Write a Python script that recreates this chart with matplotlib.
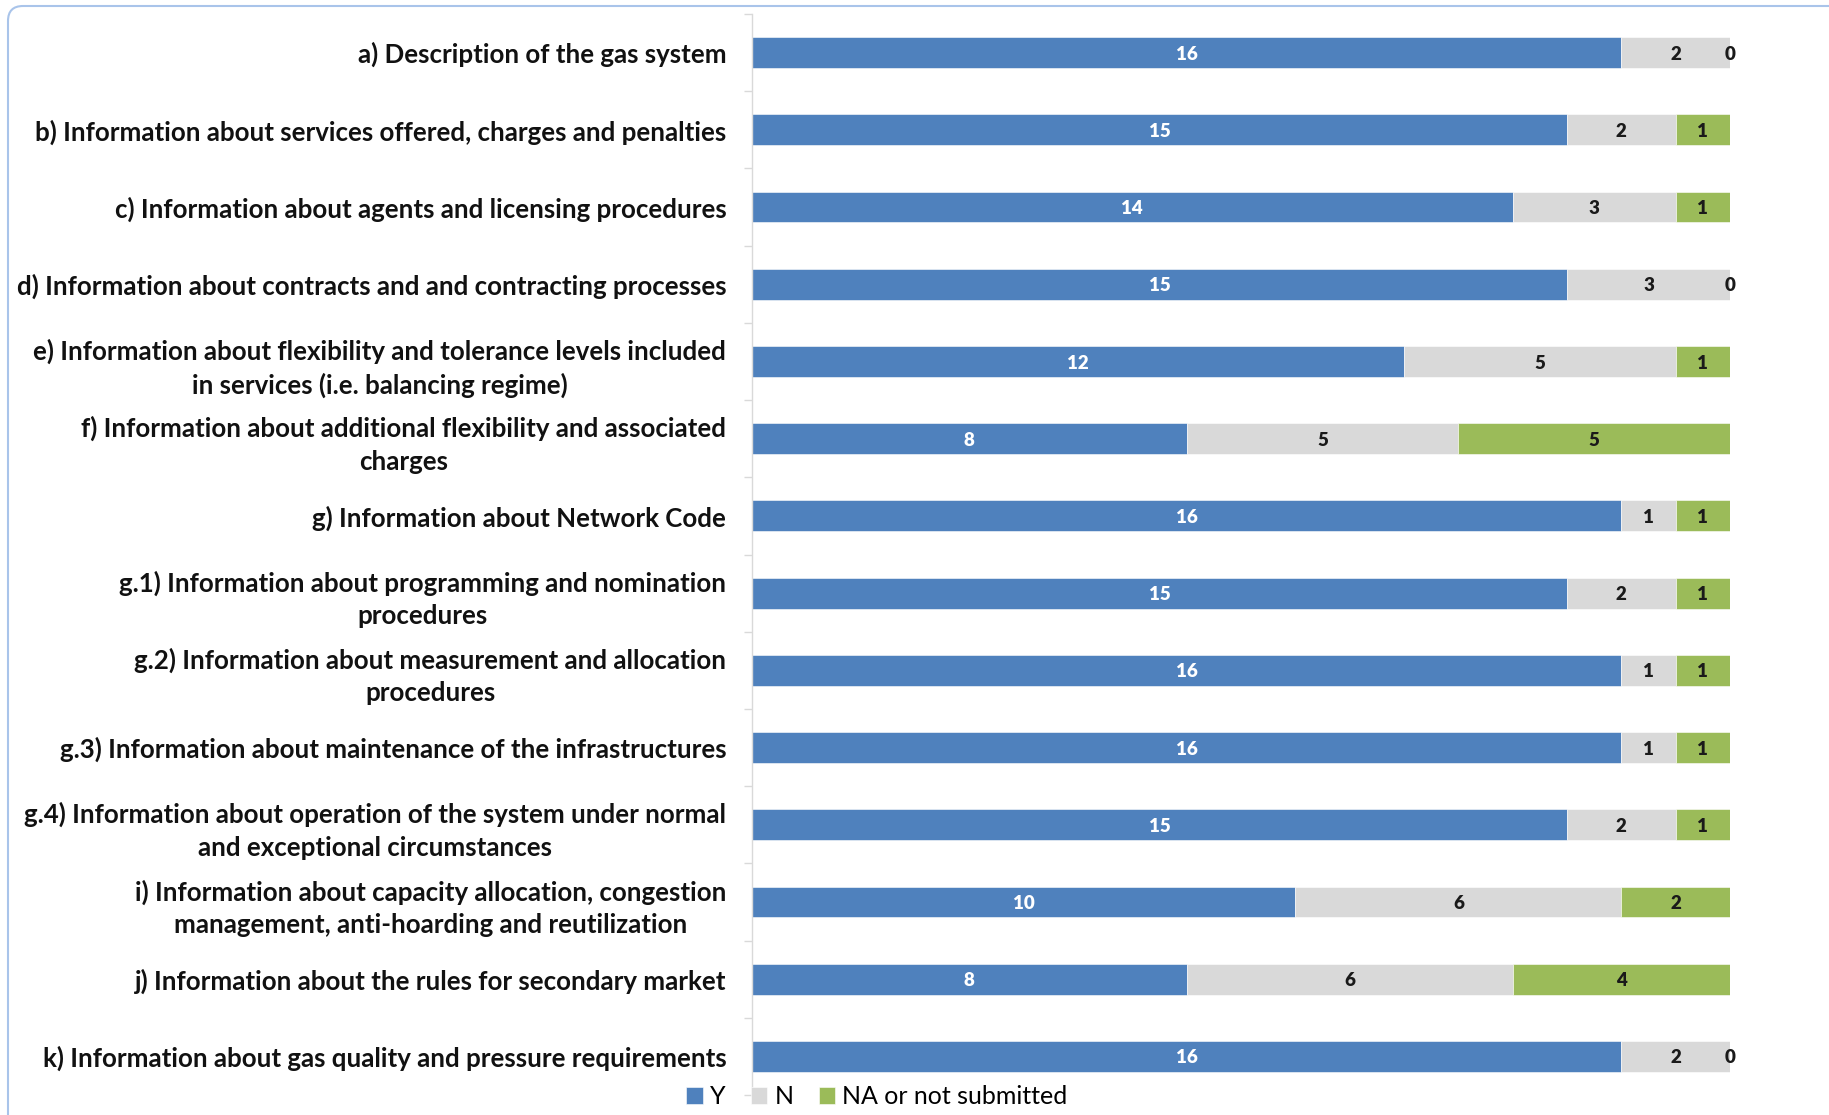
import matplotlib.pyplot as plt
import numpy as np
from matplotlib.patches import FancyBboxPatch

categories = [
    "a) Description of the gas system",
    "b) Information about services offered, charges and penalties",
    "c) Information about agents and licensing procedures",
    "d) Information about contracts and and contracting processes",
    "e) Information about flexibility and tolerance levels included\nin services (i.e. balancing regime)",
    "f) Information about additional flexibility and associated\ncharges",
    "g) Information about Network Code",
    "g.1) Information about programming and nomination\nprocedures",
    "g.2) Information about measurement and allocation\nprocedures",
    "g.3) Information about maintenance of the infrastructures",
    "g.4) Information about operation of the system under normal\nand exceptional circumstances",
    "i) Information about capacity allocation, congestion\nmanagement, anti-hoarding and reutilization",
    "j) Information about the rules for secondary market",
    "k) Information about gas quality and pressure requirements",
]
yes_vals = [16, 15, 14, 15, 12, 8, 16, 15, 16, 16, 15, 10, 8, 16]
no_vals = [2, 2, 3, 3, 5, 5, 1, 2, 1, 1, 2, 6, 6, 2]
na_vals = [0, 1, 1, 0, 1, 5, 1, 1, 1, 1, 1, 2, 4, 0]
series_names = ["Y", "N", "NA or not submitted"]

colors = ["#4F81BD", "#D9D9D9", "#9BBB59"]
label_colors = ["white", "#1a1a1a", "#1a1a1a"]

plt.rcParams['font.family'] = ['Lato', 'DejaVu Sans']

fig = plt.figure(figsize=(18.29, 11.15), dpi=100)
W, H = 1829, 1115
ax = fig.add_axes([752 / W, 1 - 1095 / H, 978 / W, (1095 - 14) / H])

# rounded frame round the chart
frame = FancyBboxPatch((0.08, -1.0), 25, 11.15 - 0.06 + 1.0,
                       boxstyle="round,pad=0,rounding_size=0.15",
                       transform=fig.dpi_scale_trans, fill=False,
                       edgecolor="#A9C4EA", lw=1.5, zorder=0)
fig.patches.append(frame)

y = np.arange(len(categories))
left = np.zeros(len(categories))
for vals, name, col, lcol in zip([yes_vals, no_vals, na_vals], series_names, colors, label_colors):
    vals = np.array(vals)
    ax.barh(y, vals, left=left, height=0.4, color=col, label=name,
            edgecolor="white", linewidth=0.4)
    for yi, v, l in zip(y, vals, left):
        ax.text(l + v / 2, yi + 0.02, str(v), ha="center", va="center",
                fontsize=13.5, fontweight="heavy", color=lcol)
    left = left + vals

ax.set_xlim(0, 18)
ax.set_ylim(len(categories) - 0.5, -0.5)
ax.set_xticks([])
ax.set_yticks(y)
ax.set_yticklabels(categories, fontsize=18.6, fontweight="bold", color="#111111",
                   linespacing=1.42)
for lbl in ax.get_yticklabels():
    lbl.set_multialignment("center")
ax.tick_params(axis="y", which="major", length=0, pad=18.5)
ax.set_yticks(np.arange(-0.5, len(categories) + 0.5, 1), minor=True)
ax.tick_params(axis="y", which="minor", length=6, color="#D9D9D9", width=1)

for s in ["top", "right", "bottom"]:
    ax.spines[s].set_visible(False)
ax.spines["left"].set_color("#D9D9D9")
ax.spines["left"].set_linewidth(1)

fig.legend(loc="center", bbox_to_anchor=(877 / W, 1 - 1097 / H), ncol=3,
           frameon=False, fontsize=18, handlelength=0.65, handleheight=0.65,
           handletextpad=0.3, columnspacing=1.0)

fig.savefig("out.png", dpi=100)
